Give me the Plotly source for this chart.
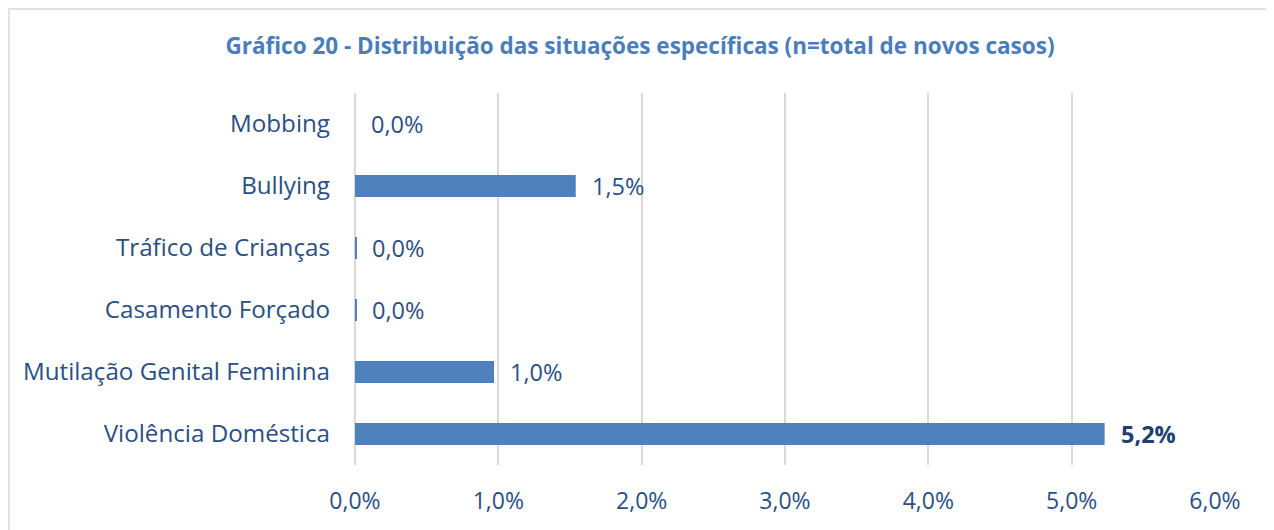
import plotly.graph_objects as go

categories = ["Mobbing", "Bullying", "Tráfico de Crianças", "Casamento Forçado",
              "Mutilação Genital Feminina", "Violência Doméstica"]
values = [0.0, 1.54, 0.01, 0.01, 0.97, 5.23]
labels = ["0,0%", "1,5%", "0,0%", "0,0%", "1,0%", "5,2%"]
x_ticks = [0, 1, 2, 3, 4, 5, 6]
x_tick_labels = ["0,0%", "1,0%", "2,0%", "3,0%", "4,0%", "5,0%", "6,0%"]

TEXT = "#2b4f83"
BAR = "#4f81bd"
GRID = "#d9d9d9"
FONT = "Open Sans"

fig = go.Figure()
fig.add_trace(go.Bar(
    x=values, y=categories, orientation="h",
    marker=dict(color=BAR, line=dict(width=0)),
    hoverinfo="skip",
))

for v, c, lab in zip(values, categories, labels):
    bold = lab == "5,2%"
    fig.add_annotation(
        x=v, y=c, xref="x", yref="y", text=f"<b>{lab}</b>" if bold else lab,
        showarrow=False, xanchor="left", yanchor="middle", xshift=14,
        font=dict(family=FONT, size=23.5, color="#1f3f6e" if bold else TEXT),
    )

# page body has an 8px margin; figure coords = screen coords - 8
OFF = 8
W, H = 1274 - OFF, 530 - OFF
L, T = 355 - OFF, 93 - OFF
R = W - (1215 - OFF)
B = H - (465 - OFF)
pw, ph = W - L - R, H - T - B
def px_x(p):
    return (p - OFF - L) / pw
def px_y(p):
    return (H - B - (p - OFF)) / ph

fig.add_shape(type="rect", xref="paper", yref="paper",
              x0=px_x(9), x1=px_x(1271), y0=px_y(545), y1=px_y(9),
              line=dict(color=GRID, width=1.5), fillcolor="rgba(0,0,0,0)", layer="below")

fig.update_layout(
    width=W, height=H,
    margin=dict(l=L, r=R, t=T, b=B, pad=0),
    paper_bgcolor="white", plot_bgcolor="white",
    separators=",.",
    bargap=0.645,
    showlegend=False,
    title=dict(text="<b>Gráfico 20 - Distribuição das situações específicas (n=total de novos casos)</b>",
               x=(640 - OFF) / W, xref="container", xanchor="center",
               y=1 - (46 - OFF) / H, yref="container", yanchor="middle",
               font=dict(family=FONT, size=22.5, color="#4a7ebb")),
    xaxis=dict(range=[0, 6], tickvals=x_ticks, ticktext=x_tick_labels,
               showgrid=True, gridcolor=GRID, gridwidth=2,
               zeroline=True, zerolinecolor=GRID, zerolinewidth=2,
               showline=False, ticks="", ticklabelstandoff=20,
               tickfont=dict(family=FONT, size=23, color=TEXT), fixedrange=True),
    yaxis=dict(categoryorder="array", categoryarray=categories, autorange="reversed",
               showgrid=False, zeroline=False, showline=False, ticks="",
               ticklabelstandoff=24,
               tickfont=dict(family=FONT, size=24.2, color=TEXT), fixedrange=True),
)

fig.write_html("out.html")
